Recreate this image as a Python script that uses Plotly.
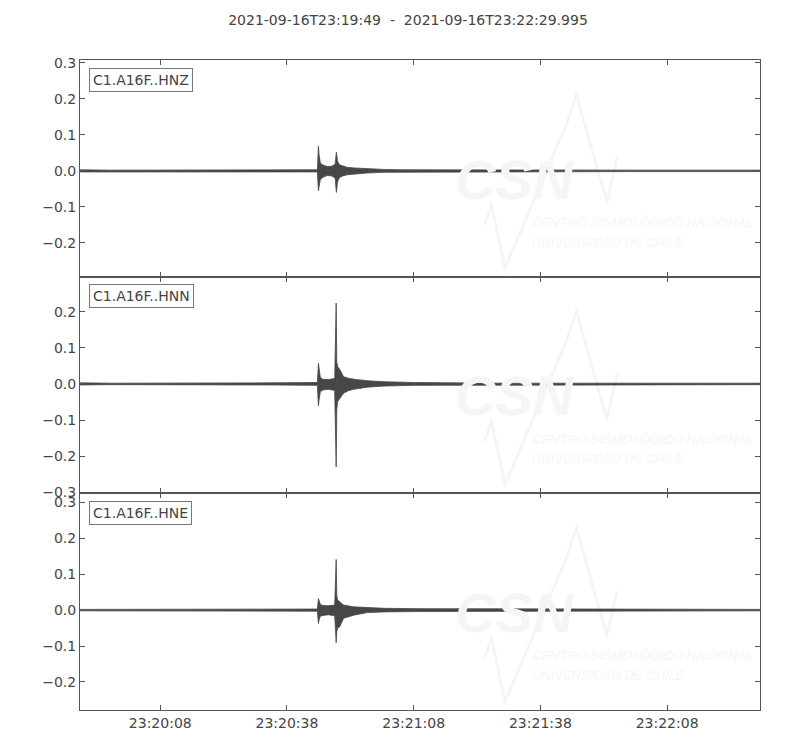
import pandas as pd
import plotly.graph_objects as go
from plotly.subplots import make_subplots

# ---- data ----
start_time = "2021-09-16 23:19:49"
title_text = "2021-09-16T23:19:49  -  2021-09-16T23:22:29.995"
channels = ["C1.A16F..HNZ", "C1.A16F..HNN", "C1.A16F..HNE"]

# envelope of each trace: seconds after start, upper and lower amplitude
z_t = [0, 7, 56.2, 56.45, 56.6, 56.9, 57.5, 58.5, 59.6, 60.4, 60.7, 60.95, 61.4, 62.2, 63.2, 65, 68, 72, 76, 85, 100, 130, 161]
z_up = [0.003, 0.002, 0.003, 0.069, 0.045, 0.022, 0.016, 0.012, 0.013, 0.018, 0.052, 0.028, 0.017, 0.013, 0.010, 0.008, 0.006, 0.004, 0.003, 0.0025, 0.002, 0.002, 0.002]
z_lo = [-0.003, -0.002, -0.003, -0.055, -0.040, -0.024, -0.018, -0.013, -0.014, -0.020, -0.060, -0.032, -0.019, -0.014, -0.011, -0.008, -0.006, -0.004, -0.003, -0.0025, -0.002, -0.002, -0.002]

n_t = [0, 7, 46, 56.2, 56.45, 56.6, 56.9, 57.5, 58.8, 60.3, 60.65, 60.8, 61.0, 61.5, 62.4, 63.5, 64.8, 68, 72, 79, 85, 100, 130, 161]
n_up = [0.003, 0.002, 0.003, 0.004, 0.057, 0.040, 0.018, 0.013, 0.012, 0.015, 0.224, 0.060, 0.048, 0.040, 0.020, 0.016, 0.013, 0.009, 0.006, 0.004, 0.003, 0.002, 0.002, 0.002]
n_lo = [-0.003, -0.002, -0.003, -0.004, -0.061, -0.045, -0.022, -0.017, -0.015, -0.018, -0.230, -0.070, -0.049, -0.042, -0.026, -0.019, -0.015, -0.009, -0.006, -0.004, -0.003, -0.002, -0.002, -0.002]

e_t = [0, 56.2, 56.45, 56.6, 56.9, 57.5, 58.8, 60.3, 60.65, 60.8, 61.0, 61.5, 62.4, 64.8, 68, 72, 80, 100, 123, 150, 161]
e_up = [0.002, 0.003, 0.032, 0.025, 0.016, 0.013, 0.012, 0.014, 0.141, 0.040, 0.028, 0.023, 0.014, 0.009, 0.007, 0.005, 0.004, 0.003, 0.003, 0.002, 0.002]
e_lo = [-0.002, -0.003, -0.037, -0.028, -0.017, -0.015, -0.013, -0.016, -0.091, -0.060, -0.050, -0.046, -0.023, -0.014, -0.007, -0.005, -0.004, -0.003, -0.003, -0.002, -0.002]

y_ranges = [[-0.294, 0.308], [-0.303, 0.297], [-0.278, 0.325]]

# ---- figure ----
base = pd.Timestamp(start_time)
fig = make_subplots(rows=3, cols=1, shared_xaxes=True, vertical_spacing=0)

trace_color = "#474747"
series = [(z_t, z_up, z_lo), (n_t, n_up, n_lo), (e_t, e_up, e_lo)]
for i, (t, up, lo) in enumerate(series):
    x_up = list(base + pd.to_timedelta(t, unit="s"))
    xs = x_up + x_up[::-1]
    ys = list(up) + list(lo)[::-1]
    fig.add_trace(go.Scatter(x=xs, y=ys, mode="lines", fill="toself",
                             fillcolor=trace_color,
                             line=dict(color=trace_color, width=0.8),
                             showlegend=False, hoverinfo="skip"),
                  row=i + 1, col=1)

axis_color = "#555555"
tick_font = dict(family="DejaVu Sans", size=14, color="#444444")
end_time = base + pd.to_timedelta(160.995, unit="s")
for i in range(3):
    fig.update_xaxes(row=i + 1, col=1, range=[base, end_time], type="date",
                     tick0="2021-09-16 23:20:08", dtick=30000, tickformat="%H:%M:%S",
                     ticks="inside", ticklen=5, tickcolor=axis_color, showgrid=False,
                     showline=True, linecolor=axis_color, linewidth=1, mirror="ticks",
                     zeroline=False, tickfont=tick_font, showticklabels=(i == 2))
    fig.update_yaxes(row=i + 1, col=1, range=y_ranges[i], dtick=0.1, tick0=0,
                     tickformat=".1f", ticks="inside", ticklen=5, tickcolor=axis_color,
                     showgrid=False, showline=True, linecolor=axis_color, linewidth=1,
                     mirror="ticks", zeroline=False, tickfont=tick_font)

# faint watermark and channel labels
wm = "#f5f5f5"
for i, ch in enumerate(channels):
    xr = "x domain" if i == 0 else f"x{i + 1} domain"
    yr = "y domain" if i == 0 else f"y{i + 1} domain"
    fig.add_shape(type="path", xref=xr, yref=yr, layer="below",
                  path="M 0.595 0.24 L 0.605 0.33 L 0.625 0.04 L 0.715 0.70 L 0.73 0.84 "
                       "L 0.765 0.45 L 0.775 0.35 L 0.79 0.55",
                  line=dict(color=wm, width=3))
    fig.add_annotation(text="<b><i>CSN</i></b>", xref=xr, yref=yr, x=0.548, y=0.45,
                       xanchor="left", yanchor="middle", showarrow=False,
                       font=dict(family="Liberation Sans", size=56, color=wm))
    fig.add_annotation(text="<i>CENTRO SISMOLÓGICO NACIONAL</i>", xref=xr, yref=yr,
                       x=0.662, y=0.25, xanchor="left", yanchor="middle", showarrow=False,
                       font=dict(family="Liberation Sans", size=13, color=wm))
    fig.add_annotation(text="<i>UNIVERSIDAD DE CHILE</i>", xref=xr, yref=yr,
                       x=0.662, y=0.16, xanchor="left", yanchor="middle", showarrow=False,
                       font=dict(family="Liberation Sans", size=13, color=wm))
    fig.add_annotation(text=ch, xref=xr, yref=yr, x=0.013, y=0.965,
                       xanchor="left", yanchor="top", showarrow=False,
                       font=dict(family="DejaVu Sans", size=14, color="#444444"),
                       bgcolor="white", bordercolor="#777777", borderwidth=1, borderpad=3)

fig.update_layout(
    width=800, height=750,
    margin=dict(l=72, r=48, t=52, b=48),
    paper_bgcolor="white", plot_bgcolor="rgba(0,0,0,0)",
    title=dict(text=title_text, x=0.5, xanchor="center", y=0.984, yanchor="middle",
               font=dict(family="DejaVu Sans", size=14, color="#444444")),
)

fig.write_html("out.html")
